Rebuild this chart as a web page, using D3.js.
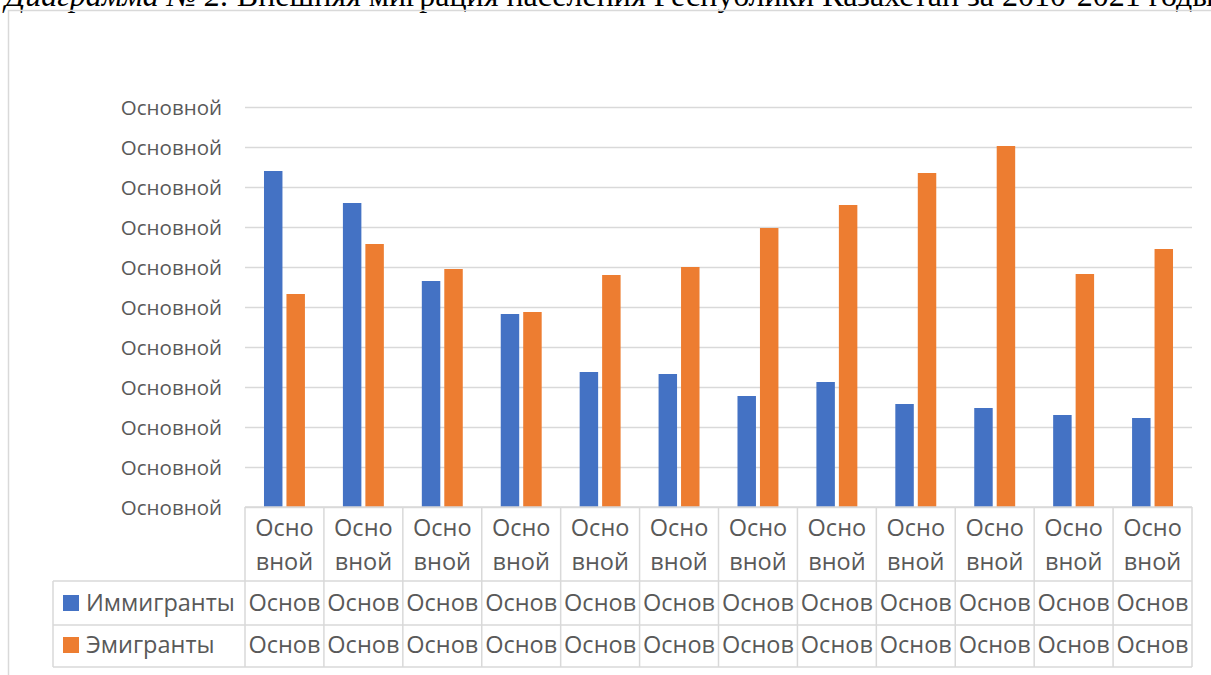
<!DOCTYPE html>
<html>
<head>
<meta charset="utf-8">
<script src="https://cdn.jsdelivr.net/npm/d3@7"></script>
<style>
  html, body { margin: 0; padding: 0; background: #fff; overflow: hidden; }
  svg { display: block; }
  .axis text { font-family: 'Open Sans', sans-serif; font-size: 20.5px; fill: #595959; }
  .cell { font-family: 'Open Sans', sans-serif; font-size: 23.5px; fill: #595959; }
</style>
</head>
<body>
<svg id="chart"></svg>
<script>
// Chart data
const years = ['2010', '2011', '2012', '2013', '2014', '2015', '2016', '2017', '2018', '2019', '2020', '2021'];
const immigrants = [42000, 38000, 28250, 24125, 16875, 16625, 13875, 15625, 12875, 12375, 11500, 11125];
const emigrants = [26625, 32875, 29750, 24375, 29000, 30000, 34875, 37750, 41750, 45125, 29125, 32250];
const seriesNames = ['Иммигранты', 'Эмигранты'];
const seriesColors = ['#4472C4', '#ED7D31'];
const yTicks = [0, 5000, 10000, 15000, 20000, 25000, 30000, 35000, 40000, 45000, 50000];
const yTickLabel = 'Основной';
const categoryLabelLines = ['Осно', 'вной'];
const cellLabel = 'Основ';
const titleItalic = 'Диаграмма № 2.';
const titleRest = ' Внешняя миграция населения Республики Казахстан за 2010-2021 годы';

const width = 1211, height = 675;
const plot = {left: 245, right: 1192, top: 107, bottom: 507};
const tableLeft = 53;
const rowLines = [581, 625, 667];
const gridColor = '#d9d9d9';

const svg = d3.select('#chart')
    .attr('width', width)
    .attr('height', height);

// Title (cut at the top edge, as on the page)
const title = svg.append('text')
    .attr('x', 5)
    .attr('y', 6)
    .style('font-family', "'Liberation Serif', serif")
    .style('font-size', '32px')
    .attr('fill', '#000');
title.append('tspan').style('font-style', 'italic').text(titleItalic);
title.append('tspan').text(titleRest);

// Chart frame
svg.append('rect')
    .attr('x', 8.5)
    .attr('y', 10.5)
    .attr('width', 1300)
    .attr('height', 800)
    .attr('fill', 'none')
    .attr('stroke', gridColor)
    .attr('stroke-width', 1.5);

// Scales
const xScale = d3.scaleBand()
    .domain(years)
    .range([plot.left, plot.right])
    .padding(0);

const xSeries = d3.scaleBand()
    .domain(seriesNames)
    .range([0, xScale.bandwidth()])
    .paddingInner(0.178)
    .paddingOuter(0.845);

const yScale = d3.scaleLinear()
    .domain([0, 50000])
    .range([plot.bottom, plot.top]);

// Y axis with gridlines
const yAxis = d3.axisLeft(yScale)
    .tickValues(yTicks)
    .tickFormat(() => yTickLabel)
    .tickSize(0)
    .tickPadding(23);

svg.append('g')
    .attr('class', 'axis y-axis')
    .attr('transform', `translate(${plot.left},0)`)
    .call(yAxis)
    .call(g => g.select('.domain').remove())
    .call(g => g.selectAll('.tick text').attr('dy', '0.38em'))
    .call(g => g.selectAll('.tick line')
        .attr('x2', plot.right - plot.left)
        .attr('stroke', gridColor)
        .attr('stroke-width', 1.5));

// Bars
const seriesData = [immigrants, emigrants];
const groups = svg.append('g')
    .selectAll('g')
    .data(seriesNames)
    .join('g')
    .attr('fill', (d, i) => seriesColors[i]);

groups.selectAll('rect')
    .data((name, i) => years.map((y, j) => ({year: y, series: name, value: seriesData[i][j]})))
    .join('rect')
    .attr('x', d => xScale(d.year) + xSeries(d.series))
    .attr('width', xSeries.bandwidth())
    .attr('y', d => yScale(d.value))
    .attr('height', d => yScale(0) - yScale(d.value));

// Data table
const table = svg.append('g').attr('class', 'table');
const line = (x1, y1, x2, y2) => table.append('line')
    .attr('x1', x1).attr('y1', y1).attr('x2', x2).attr('y2', y2)
    .attr('stroke', gridColor)
    .attr('stroke-width', 1.5);

// category header row
years.forEach(y => line(xScale(y), plot.bottom, xScale(y), rowLines[2]));
line(plot.right, plot.bottom, plot.right, rowLines[2]);
line(plot.left, plot.bottom, plot.right, plot.bottom);
rowLines.forEach(ry => line(tableLeft, ry, plot.right, ry));
line(tableLeft, rowLines[0], tableLeft, rowLines[2]);

years.forEach(y => {
  const cx = xScale(y) + xScale.bandwidth() / 2;
  categoryLabelLines.forEach((t, k) => {
    table.append('text')
        .attr('class', 'cell')
        .attr('x', cx)
        .attr('y', 536 + k * 34)
        .attr('text-anchor', 'middle')
        .text(t);
  });
});

// series rows
seriesNames.forEach((name, i) => {
  const baseline = i === 0 ? 611 : 653;
  table.append('rect')
      .attr('x', 63)
      .attr('y', baseline - 16)
      .attr('width', 16)
      .attr('height', 16)
      .attr('fill', seriesColors[i]);
  table.append('text')
      .attr('class', 'cell')
      .attr('x', 86)
      .attr('y', baseline)
      .text(name);
  years.forEach(y => {
    table.append('text')
        .attr('class', 'cell')
        .attr('x', xScale(y) + xScale.bandwidth() / 2)
        .attr('y', baseline)
        .attr('text-anchor', 'middle')
        .text(cellLabel);
  });
});
</script>
</body>
</html>
